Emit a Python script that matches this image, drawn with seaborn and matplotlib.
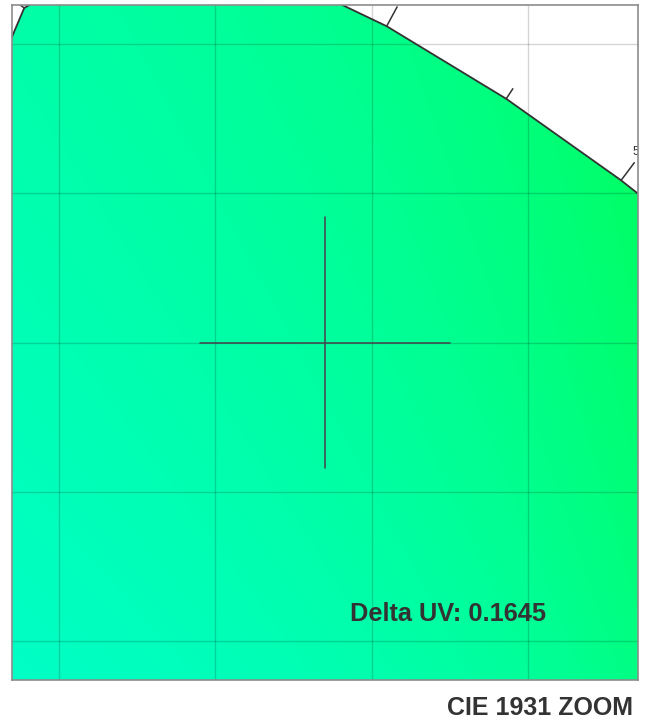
import numpy as np
import matplotlib
matplotlib.use("Agg")
import matplotlib.pyplot as plt
import seaborn as sns
from matplotlib.patches import Polygon

# ---- data ----
wavelengths = [460, 465, 470, 475, 480, 485, 490, 495, 500, 505, 510, 515, 520,
               525, 530, 535, 540, 545, 550, 555, 560, 565, 570, 575, 580, 585,
               590, 595, 600, 605, 610, 620]
locus_x = [0.1440, 0.1355, 0.1241, 0.1096, 0.0913, 0.0687, 0.0454, 0.0235,
           0.0082, 0.0039, 0.0139, 0.0389, 0.0743, 0.1142, 0.1547, 0.1929,
           0.2296, 0.2658, 0.3016, 0.3373, 0.3731, 0.4087, 0.4441, 0.4788,
           0.5125, 0.5448, 0.5752, 0.6029, 0.6270, 0.6482, 0.6658, 0.6915]
locus_y = [0.0297, 0.0399, 0.0578, 0.0868, 0.1327, 0.2007, 0.2950, 0.4127,
           0.5384, 0.6548, 0.7502, 0.8120, 0.8338, 0.8262, 0.8059, 0.7816,
           0.7543, 0.7243, 0.6923, 0.6589, 0.6245, 0.5896, 0.5547, 0.5202,
           0.4866, 0.4544, 0.4242, 0.3965, 0.3725, 0.3514, 0.3340, 0.3083]

center_x = 0.135
center_y = 0.700
half_range_x = 0.100
half_range_y = 0.113
grid_x = [0.05, 0.10, 0.15, 0.20]
grid_y = [0.60, 0.65, 0.70, 0.75, 0.80]
cross_half_x = 0.040
cross_half_y = 0.042
white_point = (0.3127, 0.3290)
delta_uv_label = "Delta UV: 0.1645"
title_label = "CIE 1931 ZOOM"

# ---- style ----
sns.set_theme(style="white")
plt.rcParams["font.family"] = ["Liberation Sans", "DejaVu Sans"]

W, H = 646, 723
fig = plt.figure(figsize=(W / 100, H / 100), dpi=100)
ax = fig.add_axes([12 / W, 1 - 680 / H, 626 / W, 675 / H])
xmin, xmax = center_x - half_range_x, center_x + half_range_x
ymin, ymax = center_y - half_range_y, center_y + half_range_y
ax.set_xlim(xmin, xmax)
ax.set_ylim(ymin, ymax)

# ---- chromaticity background ----
gx = np.linspace(xmin, xmax, 500)
gy = np.linspace(ymin, ymax, 500)
GX, GY = np.meshgrid(gx, gy)
XYZ = np.stack([GX / GY, np.ones_like(GX), (1 - GX - GY) / GY], axis=-1)
M = np.array([[3.2406, -1.5372, -0.4986],
              [-0.9689, 1.8758, 0.0415],
              [0.0557, -0.2040, 1.0570]])
rgb = XYZ @ M.T
rgb = rgb - rgb.min(axis=-1, keepdims=True)
rgb = rgb / rgb.max(axis=-1, keepdims=True)
rgb = rgb ** 1.15
srgb = np.where(rgb <= 0.0031308, 12.92 * rgb, 1.055 * np.power(rgb, 1 / 2.4) - 0.055)
im = ax.imshow(srgb, extent=(xmin, xmax, ymin, ymax), origin="lower",
               aspect="auto", interpolation="bilinear", zorder=0)
poly = Polygon(np.column_stack([locus_x, locus_y]), closed=True,
               facecolor="none", edgecolor="none", transform=ax.transData)
ax.add_patch(poly)
im.set_clip_path(poly)

# ---- grid ----
ax.set_xticks(grid_x)
ax.set_yticks(grid_y)
ax.tick_params(length=0, labelbottom=False, labelleft=False)
ax.set_axisbelow(False)
ax.grid(True, color="black", alpha=0.17, linewidth=1.0)
ax.set_xlim(xmin, xmax)
ax.set_ylim(ymin, ymax)

# ---- spectral locus ----
sns.lineplot(x=locus_x, y=locus_y, sort=False, estimator=None, color="#333333",
             linewidth=1.3, ax=ax, zorder=3)

pts = ax.transData.transform(np.column_stack([locus_x, locus_y]))
wp = ax.transData.transform(white_point)
inv = ax.transData.inverted()
bbox = ax.bbox
n = len(wavelengths)
for i, wl in enumerate(wavelengths):
    if wl % 5:
        continue
    p0 = pts[max(i - 1, 0)]
    p1 = pts[min(i + 1, n - 1)]
    t = (p1 - p0) / np.linalg.norm(p1 - p0)
    nrm = np.array([t[1], -t[0]])
    if np.dot(nrm, pts[i] - wp) < 0:
        nrm = -nrm
    length = 22 if wl % 10 == 0 else 12
    end = inv.transform(pts[i] + nrm * length)
    ax.plot([locus_x[i], end[0]], [locus_y[i], end[1]], color="#333333",
            linewidth=1.1, zorder=3)
    if wl % 10 == 0:
        lp = pts[i] + nrm * (length + 14)
        if (bbox.x0 - 12 < lp[0] < bbox.x1 + 12) and (bbox.y0 - 8 < lp[1] < bbox.y1 - 8):
            lab = inv.transform(lp)
            ax.text(lab[0], lab[1], str(wl), ha="center", va="center", fontsize=9,
                    color="#333333", clip_on=True, zorder=4)

# ---- crosshair ----
ax.plot([center_x - cross_half_x, center_x + cross_half_x], [center_y, center_y],
        color="#47404c", linewidth=1.1, zorder=4)
ax.plot([center_x, center_x], [center_y - cross_half_y, center_y + cross_half_y],
        color="#47404c", linewidth=1.1, zorder=4)

# ---- texts ----
ax.text((350 - 12) / 626, (680 - 621) / 675, delta_uv_label, transform=ax.transAxes,
        ha="left", va="baseline", fontsize=18.3, fontweight="bold", color="#333333",
        zorder=5)
fig.text(633 / W, 1 - 715 / H, title_label, ha="right", va="baseline",
         fontsize=18, fontweight="bold", color="#333333")

for sp in ax.spines.values():
    sp.set_color("#8c8c8c")
    sp.set_linewidth(1.2)
    sp.set_zorder(6)

fig.savefig("out.png", dpi=100, facecolor="white")
